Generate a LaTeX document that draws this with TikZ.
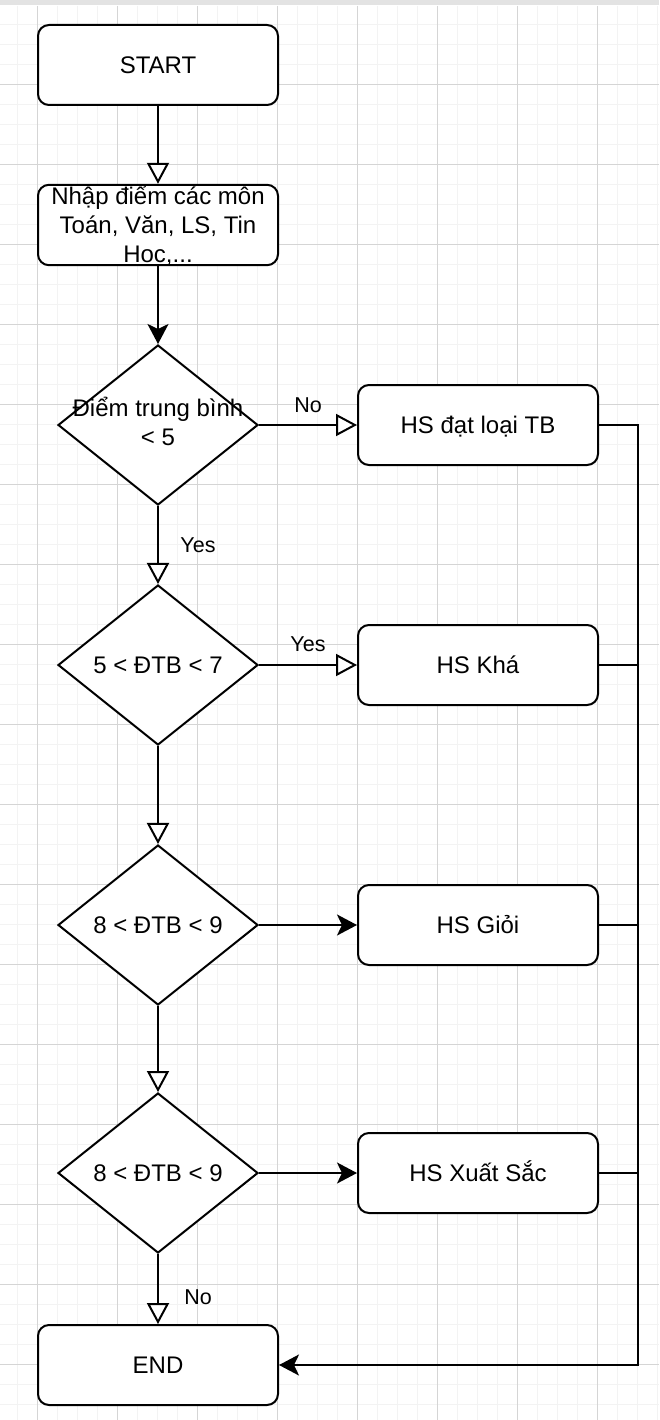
\documentclass[tikz,border=0pt]{standalone}
\usepackage{fontspec}
\setmainfont{Liberation Sans}
\usetikzlibrary{shapes.geometric,arrows.meta}
\definecolor{gridminor}{HTML}{F3F3F3}
\definecolor{gridmajor}{HTML}{D5D5D5}
\begin{document}
\begin{tikzpicture}[x=1pt,y=-1pt,line width=2pt,
  box/.style={rectangle,draw,fill=white,rounded corners=11pt,minimum width=240pt,minimum height=80pt,inner sep=0pt,font=\fontsize{24}{29}\selectfont,text height=22.2pt,text depth=5pt},
  decision/.style={diamond,draw,fill=white,minimum width=200pt,minimum height=160pt,inner sep=0pt},
  dtext/.style={font=\fontsize{24}{29}\selectfont,inner sep=0pt,text height=17.2pt,text depth=0pt},
  lbl/.style={font=\fontsize{21.5}{25}\selectfont,inner sep=0pt,text height=15.4pt,text depth=0pt},
  opentip/.style={-{Triangle[length=21pt,width=22pt,fill=white]}},
  filltip/.style={-{Stealth[length=20pt,width=21pt,inset=5pt]}}]
  \useasboundingbox (0,0) rectangle (659,1420);
  \fill[white] (0,0) rectangle (659,1420);
  \foreach \k in {0,...,32} \draw[gridminor,line width=1pt] ({17.5+20*\k},6) -- ({17.5+20*\k},1420);
  \foreach \k in {0,...,70} \draw[gridminor,line width=1pt] (0,{24.3+20*\k}) -- (659,{24.3+20*\k});
  \foreach \k in {0,...,7} \draw[gridmajor,line width=1pt] ({37.5+80*\k},6) -- ({37.5+80*\k},1420);
  \foreach \k in {0,...,16} \draw[gridmajor,line width=1pt] (0,{84.3+80*\k}) -- (659,{84.3+80*\k});
  \fill[gray!22] (0,0) rectangle (659,5);

  \node[box] (St) at (158,65) {START};
  \node[box,node distance=160pt,align=center,text height=,text depth=] (In) [below of=St] {Nhập điểm các môn\\Toán, Văn, LS, Tin\\Hoc,...};
  \node[decision,node distance=200pt,label={[dtext,align=center,text height=,text depth=,yshift=4pt]center:{Điểm trung bình\\< 5}}] (D1) [below of=In] {};
  \node[decision,node distance=240pt,label={[dtext]center:5 < ĐTB < 7}] (D2) [below of=D1] {};
  \node[decision,node distance=260pt,label={[dtext]center:8 < ĐTB < 9}] (D3) [below of=D2] {};
  \node[decision,node distance=248pt,label={[dtext]center:8 < ĐTB < 9}] (D4) [below of=D3] {};
  \node[box,node distance=192pt] (End) [below of=D4] {END};

  \node[box,node distance=320pt] (TB) [right of=D1] {HS đạt loại TB};
  \node[box,node distance=320pt] (Kh) [right of=D2] {HS Khá};
  \node[box,node distance=320pt] (Gi) [right of=D3] {HS Giỏi};
  \node[box,node distance=320pt] (XS) [right of=D4] {HS Xuất Sắc};
  \coordinate (Rail) at (638,1365);

\path (St) edge[opentip] (In)
      (In) edge[filltip] (D1)
      (D1) edge[opentip] node[lbl,yshift=20pt] {No} (TB)
      (D1) edge[opentip] node[lbl,xshift=40pt] {Yes} (D2)
      (D2) edge[opentip] node[lbl,yshift=21pt] {Yes} (Kh)
      (D2) edge[opentip] (D3)
      (D3) edge[filltip] (Gi)
      (D3) edge[opentip] (D4)
      (D4) edge[filltip] (XS)
      (D4) edge[opentip] node[lbl,xshift=40pt,yshift=-8pt] {No} (End);
\draw[filltip] (TB.east) -| (Rail) -- (End.east);
\draw (Kh.east) -- (Kh.east -| Rail);
\draw (Gi.east) -- (Gi.east -| Rail);
\draw (XS.east) -- (XS.east -| Rail);
\end{tikzpicture}
\end{document}
